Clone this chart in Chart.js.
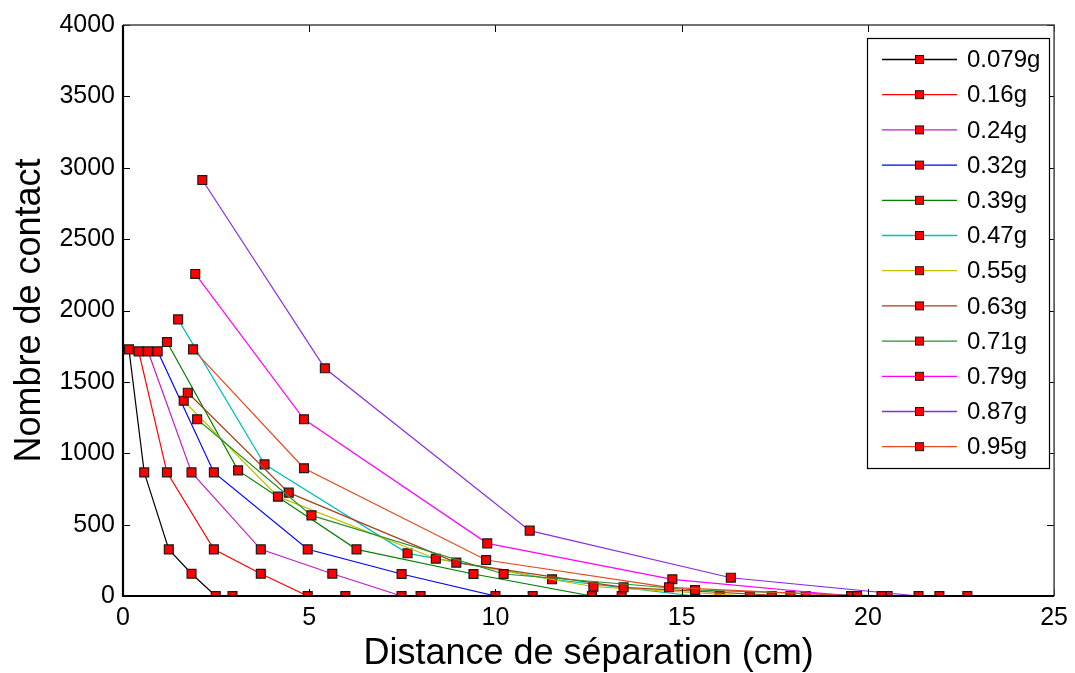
<!DOCTYPE html>
<html><head><meta charset="utf-8">
<script src="https://cdn.jsdelivr.net/npm/chart.js@4"></script>
<style>html,body{margin:0;padding:0;background:#fff;overflow:hidden}#wrap{width:1075px;height:673px;position:relative}</style>
</head><body><div id="wrap"><canvas id="c" width="1075" height="673"></canvas></div>
<script>
// ---- data ----
const seriesLabels = ['0.079g','0.16g','0.24g','0.32g','0.39g','0.47g','0.55g','0.63g','0.71g','0.79g','0.87g','0.95g'];
const seriesColors = ['#000000','#ff0000','#c21fc2','#0000ff','#008000','#00bfbf','#bfbf00','#a5401a','#2a8f2a','#ff00ff','#8a2be2','#e8471f'];

const x079 = [0.16, 0.57, 1.23, 1.84, 2.49, 2.94];
const y079 = [1728, 866, 327, 156, 0, 0];
const x016 = [0.42, 1.18, 2.44, 3.70, 4.96, 5.97];
const y016 = [1714, 866, 327, 156, 0, 0];
const x024 = [0.67, 1.84, 3.70, 5.62, 7.48, 7.99];
const y024 = [1714, 866, 327, 156, 0, 0];
const x032 = [0.93, 2.44, 4.96, 7.48, 10.0, 11.0];
const y032 = [1714, 866, 327, 154, 0, 0];
const x039 = [1.18, 3.09, 6.27, 9.41, 12.59, 13.39];
const y039 = [1779, 880, 327, 154, 0, 0];
const x047 = [1.48, 3.80, 7.64, 11.52, 15.36, 16.02];
const y047 = [1938, 922, 299, 117, 0, 0];
const x055 = [1.63, 4.16, 8.40, 12.63, 16.83, 17.42];
const y055 = [1368, 696, 261, 65, 0, 0];
const x063 = [1.74, 4.45, 8.95, 13.44, 17.92, 18.33];
const y063 = [1424, 724, 234, 61, 0, 0];
const x071 = [1.99, 5.06, 10.22, 15.36, 20.53, 21.92];
const y071 = [1238, 565, 154, 42, 0, 0];
const x079b = [1.94, 4.86, 9.78, 14.75, 19.55, 20.37];
const y079b = [2256, 1238, 369, 117, 0, 0];
const x087 = [2.13, 5.42, 10.92, 16.32, 21.36, 22.67];
const y087 = [2914, 1595, 458, 128, 0, 0];
const x095 = [1.88, 4.86, 9.75, 14.66, 19.71, 20.37];
const y095 = [1728, 895, 252, 61, 0, 0];

const seriesX = [x079, x016, x024, x032, x039, x047, x055, x063, x071, x079b, x087, x095];
const seriesY = [y079, y016, y024, y032, y039, y047, y055, y063, y071, y079b, y087, y095];

const xTickValues = [0, 5, 10, 15, 20, 25];
const yTickValues = [0, 500, 1000, 1500, 2000, 2500, 3000, 3500, 4000];
const xTitle = 'Distance de séparation (cm)';
const yTitle = 'Nombre de contact';

// ---- build datasets ----
const N = seriesLabels.length;
const datasets = seriesLabels.map((lab, i) => ({
  label: lab,
  data: seriesX[i].map((x, k) => ({x: x, y: seriesY[i][k]})),
  showLine: true,
  borderColor: seriesColors[i],
  borderWidth: 1.2,
  backgroundColor: '#ff0000',
  pointBackgroundColor: '#ff0000',
  pointBorderColor: '#1a1a1a',
  pointBorderWidth: 1.2,
  pointStyle: 'rect',
  pointRadius: 6.3,
  pointHoverRadius: 6.3,
  tension: 0,
  order: N - i
}));

const FONT = '"Liberation Sans", Arial, Helvetica, sans-serif';

const framePlugin = {
  id: 'frame',
  afterDatasetsDraw(chart) {
    const {ctx, chartArea: a, scales} = chart;
    ctx.save();
    ctx.strokeStyle = '#000'; ctx.lineWidth = 1;
    const tl = 7;
    yTickValues.forEach(v => {
      const y = Math.round(scales.y.getPixelForValue(v)) + 0.5;
      ctx.beginPath(); ctx.moveTo(a.left, y); ctx.lineTo(a.left + tl, y); ctx.stroke();
      ctx.beginPath(); ctx.moveTo(a.right, y); ctx.lineTo(a.right - tl, y); ctx.stroke();
    });
    xTickValues.forEach(v => {
      const x = Math.round(scales.x.getPixelForValue(v)) + 0.5;
      ctx.beginPath(); ctx.moveTo(x, a.bottom); ctx.lineTo(x, a.bottom - tl); ctx.stroke();
      ctx.beginPath(); ctx.moveTo(x, a.top); ctx.lineTo(x, a.top + tl); ctx.stroke();
    });
    ctx.strokeStyle = '#444'; ctx.lineWidth = 1.5;
    ctx.beginPath(); ctx.moveTo(a.left, a.top); ctx.lineTo(a.right, a.top); ctx.lineTo(a.right, a.bottom); ctx.stroke();
    ctx.strokeStyle = '#000'; ctx.lineWidth = 2.2;
    ctx.beginPath(); ctx.moveTo(a.left, a.top); ctx.lineTo(a.left, a.bottom); ctx.lineTo(a.right, a.bottom); ctx.stroke();
    ctx.restore();
  },
  afterDraw(chart) {
    const {ctx} = chart;
    const ds = chart.data.datasets;
    const bx = 867, by = 38, bw = 182, bh = 430;
    ctx.save();
    ctx.fillStyle = '#fff';
    ctx.fillRect(bx, by, bw, bh);
    ctx.strokeStyle = '#000'; ctx.lineWidth = 1.2;
    ctx.strokeRect(bx + 0.5, by + 0.5, bw, bh);
    const y0 = 59.5, dy = 35.2;
    ds.forEach((d, i) => {
      const y = y0 + i * dy;
      ctx.strokeStyle = d.borderColor; ctx.lineWidth = 1.3;
      ctx.beginPath(); ctx.moveTo(882, y); ctx.lineTo(957, y); ctx.stroke();
      ctx.fillStyle = '#ff0000'; ctx.strokeStyle = '#1a1a1a'; ctx.lineWidth = 1;
      ctx.fillRect(915.5, y - 4, 8, 8); ctx.strokeRect(915.5, y - 4, 8, 8);
      ctx.fillStyle = '#000';
      ctx.font = '24px ' + FONT;
      ctx.textAlign = 'left'; ctx.textBaseline = 'middle';
      ctx.fillText(d.label, 967, y + 1);
    });
    ctx.restore();
  }
};

new Chart(document.getElementById('c'), {
  type: 'scatter',
  data: {datasets},
  options: {
    responsive: false,
    animation: false,
    devicePixelRatio: 1,
    layout: {padding: {top: 25, right: 18, left: 0, bottom: 0}},
    plugins: {legend: {display: false}, tooltip: {enabled: false}},
    scales: {
      x: {
        type: 'linear', min: 0, max: 25,
        afterBuildTicks: s => { s.ticks = xTickValues.map(v => ({value: v})); },
        afterFit: s => { s.height = 77; },
        grid: {display: false, drawTicks: false},
        border: {display: false},
        ticks: {color: '#000', font: {family: FONT, size: 25}, padding: 7, maxRotation: 0, callback: v => String(v)},
        title: {display: true, text: xTitle, color: '#000', font: {family: FONT, size: 36, lineHeight: 1}, padding: {top: 1, bottom: 1}}
      },
      y: {
        type: 'linear', min: 0, max: 4000,
        afterBuildTicks: s => { s.ticks = yTickValues.map(v => ({value: v})); },
        afterFit: s => { s.width = 123; },
        grid: {display: false, drawTicks: false},
        border: {display: false},
        ticks: {color: '#000', font: {family: FONT, size: 25}, padding: 8, callback: v => String(v)},
        title: {display: true, text: yTitle, color: '#000', font: {family: FONT, size: 36, lineHeight: 1}, padding: {top: 12, bottom: 0}}
      }
    }
  },
  plugins: [framePlugin]
});
</script></body></html>
